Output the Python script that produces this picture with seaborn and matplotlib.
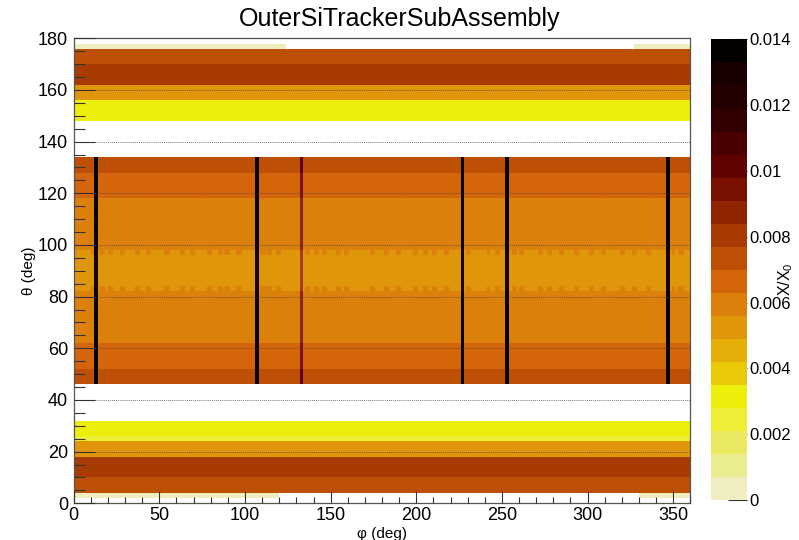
import numpy as np
import matplotlib
matplotlib.use("Agg")
import matplotlib.pyplot as plt
from matplotlib.colors import ListedColormap, BoundaryNorm
import seaborn as sns

TITLE = "OuterSiTrackerSubAssembly"

# theta bands (deg) and X/X0 of each band, nan = empty bin
THETA_EDGES = [0, 2, 4, 10, 18, 24, 26, 32, 46, 52, 62, 82, 98, 118, 128, 134,
               148, 156, 162, 170, 176, 178, 180]
BAND_VALUE = [np.nan, np.nan, 0.0074, 0.0081, 0.0053, 0.0024, 0.0031, np.nan,
              0.0074, 0.0067, 0.0060, 0.0053, 0.0060, 0.0067, 0.0074, np.nan,
              0.0031, 0.0053, 0.0081, 0.0074, np.nan, np.nan]

# thin, almost empty strips near the beam pipe, only over part of phi
STRIP_THETA = [(2, 4), (176, 178)]
STRIP_PHI = [[(0, 120), (330, 360)], [(0, 124), (327, 360)]]
STRIP_VALUE = 0.0003

# ragged edges of the central band
NOTCH_THETA = [(82, 84), (96, 98)]
NOTCH_PHI = [11.5, 16.9, 21.2, 28.2, 37.7, 43.2, 54.3, 63.2, 69.1, 79.2, 85.4,
             89.9, 96.1, 110.7, 114.6, 119.5, 136.8, 141.8, 146.1, 154.5, 159.7,
             174.5, 182.7, 189.5, 199.8, 205.1, 210.9, 217.3, 230.4, 242.0,
             247.9, 257.6, 261.5, 272.2, 277.1, 284.9, 293.6, 302.4, 309.2,
             320.5, 327.7, 335.4, 350.0, 354.9]
NOTCH_VALUE = 0.0060

# support structures seen as thin lines in phi
LINE_PHI = [13, 107, 133, 227, 253, 347]
LINE_EXTRA = [0.0078, 0.0078, 0.0030, 0.0078, 0.0078, 0.0078]
LINE_THETA = (46, 134)

PALETTE = ["#F0EEC0", "#EBEB90", "#EAEA60", "#EDEE35", "#EEEE0C", "#EAC906",
           "#E6AE08", "#E0960A", "#DB800B", "#D4650A", "#BD5004", "#A83A03",
           "#912400", "#7A1000", "#600200", "#4A0000", "#330000", "#220000",
           "#180000", "#050000"]
ZMAX = 0.014
CBAR_TICKS = [0, 0.002, 0.004, 0.006, 0.008, 0.01, 0.012, 0.014]
CBAR_LABELS = ["0", "0.002", "0.004", "0.006", "0.008", "0.01", "0.012", "0.014"]

D_PHI, D_THETA = 1.0, 0.5
phi = np.arange(0, 360, D_PHI) + D_PHI / 2
theta = np.arange(0, 180, D_THETA) + D_THETA / 2

band = np.searchsorted(THETA_EDGES, theta, side="right") - 1
grid = np.tile(np.array(BAND_VALUE)[band][:, None], (1, len(phi)))

for (t0, t1), ranges in zip(STRIP_THETA, STRIP_PHI):
    rows = (theta > t0) & (theta < t1)
    for p0, p1 in ranges:
        cols = (phi > p0) & (phi < p1)
        grid[np.ix_(rows, cols)] = STRIP_VALUE

for t0, t1 in NOTCH_THETA:
    rows = (theta > t0) & (theta < t1)
    for p in NOTCH_PHI:
        cols = np.abs(phi - p) < 1.5
        grid[np.ix_(rows, cols)] = NOTCH_VALUE

rows = (theta > LINE_THETA[0]) & (theta < LINE_THETA[1])
for p, extra in zip(LINE_PHI, LINE_EXTRA):
    cols = np.abs(phi - p) < 1.0
    grid[np.ix_(rows, cols)] += extra
grid = np.minimum(grid, ZMAX * 0.995)

sns.set_theme(style="white")
plt.rcParams["font.family"] = ["Liberation Sans", "DejaVu Sans"]
plt.rcParams["mathtext.fontset"] = "custom"
plt.rcParams["mathtext.rm"] = "Liberation Sans"
for key in ["text.color", "axes.labelcolor", "xtick.labelcolor", "ytick.labelcolor"]:
    plt.rcParams[key] = "black"

cmap = ListedColormap(PALETTE)
cmap.set_bad("white")
norm = BoundaryNorm(np.linspace(0, ZMAX, len(PALETTE) + 1), len(PALETTE))

fig = plt.figure(figsize=(7.99, 5.40), dpi=100)
ax = fig.add_axes([0.0922, 0.068, 0.7719, 0.861])
cax = fig.add_axes([0.8895, 0.074, 0.045, 0.853])

sns.heatmap(grid, ax=ax, cbar_ax=cax, cmap=cmap, norm=norm,
            xticklabels=False, yticklabels=False)
ax.set_ylim(0, len(theta))
ax.set_xlim(0, len(phi))

ax.set_xticks(np.arange(0, 351, 50) / D_PHI)
ax.set_xticklabels([str(v) for v in range(0, 351, 50)], fontsize=13, color="black")
ax.set_xticks(np.arange(0, 361, 10) / D_PHI, minor=True)
ax.set_yticks(np.arange(0, 181, 20) / D_THETA)
ax.set_yticklabels([str(v) for v in range(0, 181, 20)], fontsize=13, color="black")
ax.set_yticks(np.arange(0, 181, 5) / D_THETA, minor=True)

ax.tick_params(axis="x", which="major", direction="in", length=8.6, width=0.8,
               color="#333333", pad=3, bottom=True, top=False)
ax.tick_params(axis="x", which="minor", direction="in", length=4.3, width=0.8,
               color="#333333", bottom=True, top=False)
ax.tick_params(axis="y", which="major", direction="in", length=15, width=0.8,
               color="#333333", pad=4, left=True, right=False)
ax.tick_params(axis="y", which="minor", direction="in", length=8, width=0.8,
               color="#333333", left=True, right=False)

ax.set_axisbelow(False)
ax.grid(axis="y", which="major", color="#444444", linewidth=0.6,
        linestyle=(0, (1, 1.5)))
for s in ax.spines.values():
    s.set_visible(True)
    s.set_color("#555555")
    s.set_linewidth(0.9)

ax.set_xlabel("φ (deg)", fontsize=11, labelpad=2, color="black")
ax.set_ylabel("θ (deg)", fontsize=11, labelpad=1, color="black")

cbar = ax.collections[0].colorbar
cbar.set_ticks(CBAR_TICKS)
cbar.set_ticklabels(CBAR_LABELS)
cbar.ax.tick_params(direction="in", length=14, width=0.8, color="#333333",
                    labelsize=12, labelcolor="black", pad=2)
cbar.ax.minorticks_off()
cbar.outline.set_visible(False)

fig.text(0.5, 1 - 26 / 540, TITLE, ha="center", va="baseline", fontsize=18,
         color="black")
fig.text(0.983, 1 - 279 / 540, "X/X$_0$", rotation=90, ha="center",
         va="center", fontsize=11.5, color="black")

fig.savefig("out.png", dpi=100)
